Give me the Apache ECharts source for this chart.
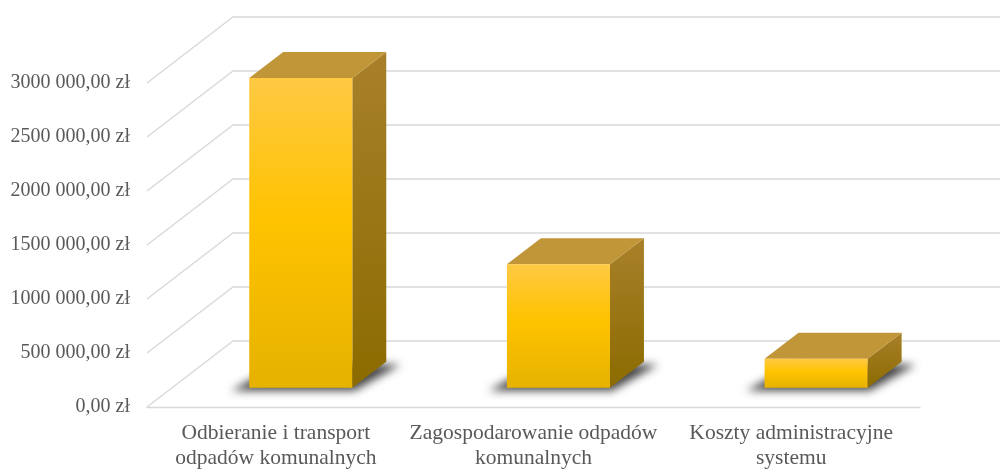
<!DOCTYPE html>
<html>
<head>
<meta charset="utf-8">
<script src="https://cdn.jsdelivr.net/npm/echarts@6/dist/echarts.min.js"></script>
<style>
  html, body { margin: 0; padding: 0; background: #ffffff; }
  #chart { width: 1000px; height: 471px; }
</style>
</head>
<body>
<div id="chart"></div>
<script>
// ---- data ----
const categories = [
  'Odbieranie i transport\nodpadów komunalnych',
  'Zagospodarowanie odpadów\nkomunalnych',
  'Koszty administracyjne\nsystemu'
];
const costs = [2868000, 1144000, 269000];
const yTicks = [0, 500000, 1000000, 1500000, 2000000, 2500000, 3000000];
const yTickLabels = ['0,00 zł', '500 000,00 zł', '1000 000,00 zł', '1500 000,00 zł',
                     '2000 000,00 zł', '2500 000,00 zł', '3000 000,00 zł'];

// ---- 3D look (style only) ----
const DEPTH_DX = 86, DEPTH_DY = -66;      // floor depth, in pixels
const BAR_FRONT = 0.29;                   // bar front face position in depth
const BAR_DEPTH = 0.395;                  // bar depth as fraction of floor depth
const BAR_WIDTH = 0.4;                    // bar width as fraction of band
const GRID_COLOR = '#d9d9d9';
const TEXT_COLOR = '#595959';
const FONT = '"Liberation Serif", "Times New Roman", serif';
const SHADOW_SHIFT = 3000;                // draw shadow shape off-screen, show only its blur

const chart = echarts.init(document.getElementById('chart'), null, { renderer: 'canvas' });

function wallItem(params, api) {
  const cs = params.coordSys;
  const v = api.value(1);
  const y = api.coord([0, v])[1];
  const fx = cs.x;
  const bx = fx + DEPTH_DX, by = y + DEPTH_DY;
  return {
    type: 'polyline',
    shape: { points: [[fx, y], [bx, by], [cs.x + cs.width + DEPTH_DX + 40, by]] },
    style: { stroke: GRID_COLOR, lineWidth: 1.4, fill: null },
    silent: true
  };
}

function barItem(params, api) {
  const idx = api.value(0), v = api.value(1);
  const top = api.coord([idx, v]);
  const base = api.coord([idx, 0]);
  const band = api.size([1, 0])[0];
  const w = band * BAR_WIDTH;
  const ox = DEPTH_DX * BAR_FRONT, oy = DEPTH_DY * BAR_FRONT;
  const dx = DEPTH_DX * BAR_DEPTH, dy = DEPTH_DY * BAR_DEPTH;
  const x0 = top[0] - w / 2 + ox, x1 = x0 + w;
  const yt = top[1] + oy, yb = base[1] + oy;
  const S = SHADOW_SHIFT;
  const shadowPts = [[x0 - 18, yb + 3], [x1 + 2, yb + 3], [x1 + dx + 14, yb + dy + 3], [x0 + dx, yb + dy]]
    .map(function (p) { return [p[0] - S, p[1]]; });
  return {
    type: 'group',
    children: [
      {
        type: 'polygon',
        shape: { points: shadowPts },
        style: { fill: '#000', shadowBlur: 9, shadowColor: 'rgba(0,0,0,0.72)', shadowOffsetX: S },
        silent: true
      },
      {
        type: 'polygon',
        shape: { points: [[x1, yt], [x1 + dx, yt + dy], [x1 + dx, yb + dy], [x1, yb]] },
        style: {
          fill: { type: 'linear', x: 0, y: 0, x2: 0, y2: 1,
                  colorStops: [{ offset: 0, color: '#a8802a' }, { offset: 1, color: '#8c6b00' }] }
        }
      },
      {
        type: 'polygon',
        shape: { points: [[x0, yt], [x1, yt], [x1 + dx, yt + dy], [x0 + dx, yt + dy]] },
        style: { fill: '#c19638' }
      },
      {
        type: 'rect',
        shape: { x: x0, y: yt, width: w, height: yb - yt },
        style: {
          fill: { type: 'linear', x: 0, y: 0, x2: 0, y2: 1,
                  colorStops: [{ offset: 0, color: '#ffc943' }, { offset: 0.45, color: '#ffc300' },
                               { offset: 1, color: '#e6b200' }] }
        }
      }
    ]
  };
}

const option = {
  animation: false,
  backgroundColor: '#ffffff',
  grid: { left: 147, right: 80, top: 83, bottom: 59, containLabel: false },
  xAxis: {
    type: 'category',
    data: categories,
    axisLine: { show: true, lineStyle: { color: GRID_COLOR, width: 1.4 } },
    axisTick: { show: false },
    splitLine: { show: false },
    axisLabel: {
      interval: 0, margin: 14, color: TEXT_COLOR, fontSize: 21.5,
      fontFamily: FONT, lineHeight: 25
    }
  },
  yAxis: {
    type: 'value',
    min: 0, max: 3000000, interval: 500000,
    axisLine: { show: false },
    axisTick: { show: false },
    splitLine: { show: false },
    axisLabel: {
      margin: 17, color: TEXT_COLOR, fontSize: 20, fontFamily: FONT,
      formatter: function (v) {
        const i = yTicks.indexOf(v);
        return i >= 0 ? yTickLabels[i] : '';
      }
    }
  },
  series: [
    {
      type: 'custom',
      name: 'grid',
      silent: true,
      z: 1,
      renderItem: wallItem,
      data: yTicks.map(function (t) { return [0, t]; }),
      encode: { x: 0, y: 1 }
    },
    {
      type: 'custom',
      name: 'Koszty',
      z: 3,
      renderItem: barItem,
      data: costs.map(function (c, i) { return [i, c]; }),
      encode: { x: 0, y: 1 }
    }
  ]
};
chart.setOption(option);
</script>
</body>
</html>
